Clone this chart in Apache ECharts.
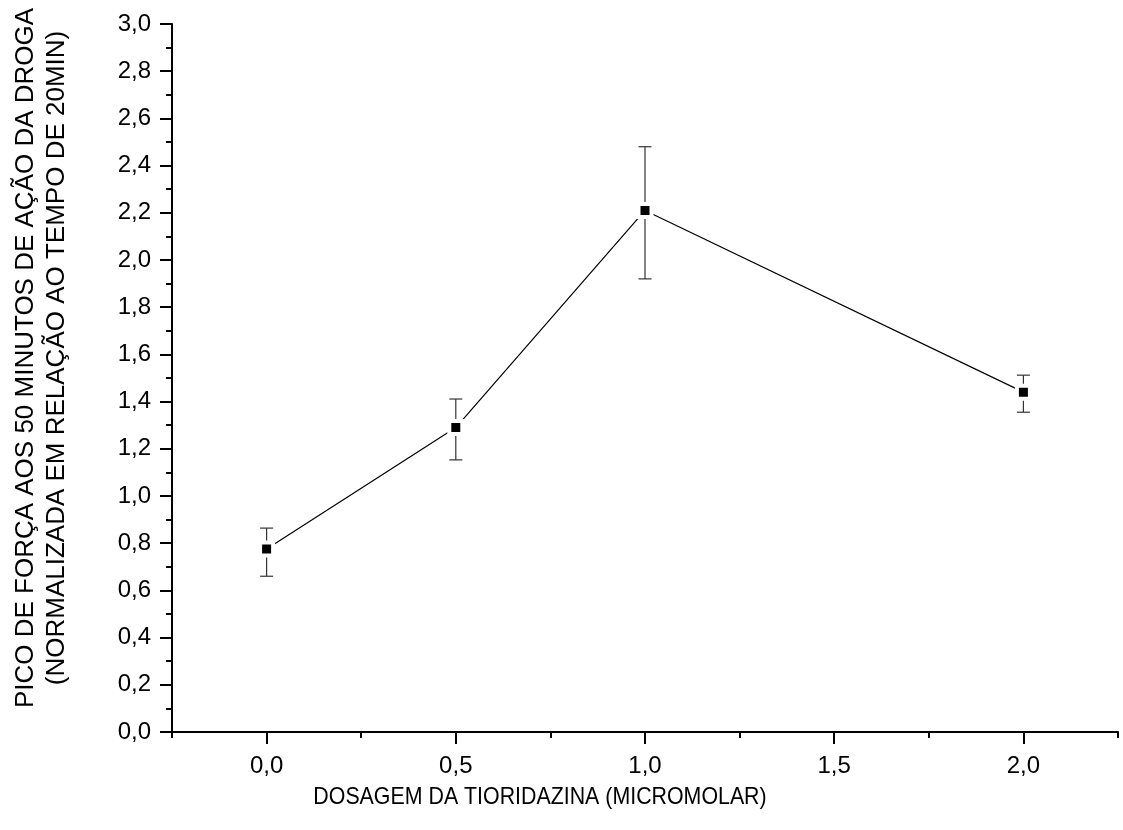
<!DOCTYPE html>
<html>
<head>
<meta charset="utf-8">
<script src="https://cdn.jsdelivr.net/npm/echarts@6/dist/echarts.min.js"></script>
<style>html,body{margin:0;padding:0;background:#fff}#c{width:1123px;height:830px}</style>
</head>
<body>
<div id="c"></div>
<script>
const dosages = [0.0, 0.5, 1.0, 2.0];
const peakForce = [0.775, 1.29, 2.21, 1.44];
const errLow = [0.66, 1.153, 1.92, 1.355];
const errHigh = [0.864, 1.411, 2.48, 1.512];
const xMajorTicks = [0, 0.5, 1.0, 1.5, 2.0];
const xMinorTicks = [-0.25, 0.25, 0.75, 1.25, 1.75, 2.25];
const xTitle = 'DOSAGEM DA TIORIDAZINA (MICROMOLAR)';
const yTitle = 'PICO DE FORÇA AOS 50 MINUTOS DE AÇÃO DA DROGA\n(NORMALIZADA EM RELAÇÃO AO TEMPO DE 20MIN)';

const FONT = '"Liberation Sans", Arial, sans-serif';
const fmt = v => v.toFixed(1).replace('.', ',');
const chart = echarts.init(document.getElementById('c'), null, {renderer: 'canvas'});

const points = dosages.map((d, i) => [d, peakForce[i]]);
const errData = dosages.map((d, i) => [d, errLow[i], errHigh[i]]);

chart.setOption({
  animation: false,
  backgroundColor: '#fff',
  grid: {left: 172, right: 5, top: 24, bottom: 98, containLabel: false},
  xAxis: [{
    type: 'value', min: -0.25, max: 2.25,
    axisLine: {show: true, onZero: false, lineStyle: {color: '#000', width: 2}},
    axisTick: {show: true, customValues: xMajorTicks, length: 12, inside: false, lineStyle: {color: '#000', width: 2}},
    axisLabel: {show: true, customValues: xMajorTicks, formatter: fmt, color: '#000', fontSize: 24, fontFamily: FONT, margin: 22},
    splitLine: {show: false}
  }, {
    type: 'value', min: -0.25, max: 2.25, position: 'bottom',
    axisLine: {show: false, onZero: false},
    axisTick: {show: true, customValues: xMinorTicks, length: 6, inside: false, lineStyle: {color: '#000', width: 2}},
    axisLabel: {show: false},
    splitLine: {show: false}
  }],
  yAxis: {
    type: 'value', min: 0, max: 3, interval: 0.2,
    axisLine: {show: true, onZero: false, lineStyle: {color: '#000', width: 2}},
    axisTick: {show: true, length: 12, inside: false, lineStyle: {color: '#000', width: 2}},
    minorTick: {show: true, splitNumber: 2, length: 6, lineStyle: {color: '#000', width: 2}},
    axisLabel: {formatter: fmt, color: '#000', fontSize: 24, fontFamily: FONT, margin: 21},
    splitLine: {show: false}
  },
  graphic: [{
    type: 'text', x: 540, y: 797, scaleX: 0.89,
    style: {text: xTitle, fill: '#000', font: '24px ' + FONT, textAlign: 'center', textVerticalAlign: 'middle'}
  }, {
    type: 'text', x: 41, y: 358, rotation: Math.PI / 2,
    style: {text: yTitle, fill: '#000', font: '26px ' + FONT, textAlign: 'center', textVerticalAlign: 'middle', lineHeight: 31}
  }],
  series: [{
    type: 'custom',
    z: 1,
    data: errData,
    renderItem: function (params, api) {
      const x = api.value(0);
      const lo = api.coord([x, api.value(1)]);
      const hi = api.coord([x, api.value(2)]);
      const w = 6.5;
      const st = {stroke: '#333', lineWidth: 1.2};
      return {
        type: 'group',
        children: [
          {type: 'line', shape: {x1: lo[0], y1: lo[1], x2: hi[0], y2: hi[1]}, style: st},
          {type: 'line', shape: {x1: lo[0] - w, y1: lo[1], x2: lo[0] + w, y2: lo[1]}, style: st},
          {type: 'line', shape: {x1: hi[0] - w, y1: hi[1], x2: hi[0] + w, y2: hi[1]}, style: st}
        ]
      };
    }
  }, {
    type: 'line',
    z: 3,
    data: points,
    symbol: 'rect',
    symbolSize: 13,
    showSymbol: true,
    lineStyle: {color: '#000', width: 1.2},
    itemStyle: {color: '#000', borderColor: '#fff', borderWidth: 4},
    emphasis: {disabled: true}
  }]
});
</script>
</body>
</html>
